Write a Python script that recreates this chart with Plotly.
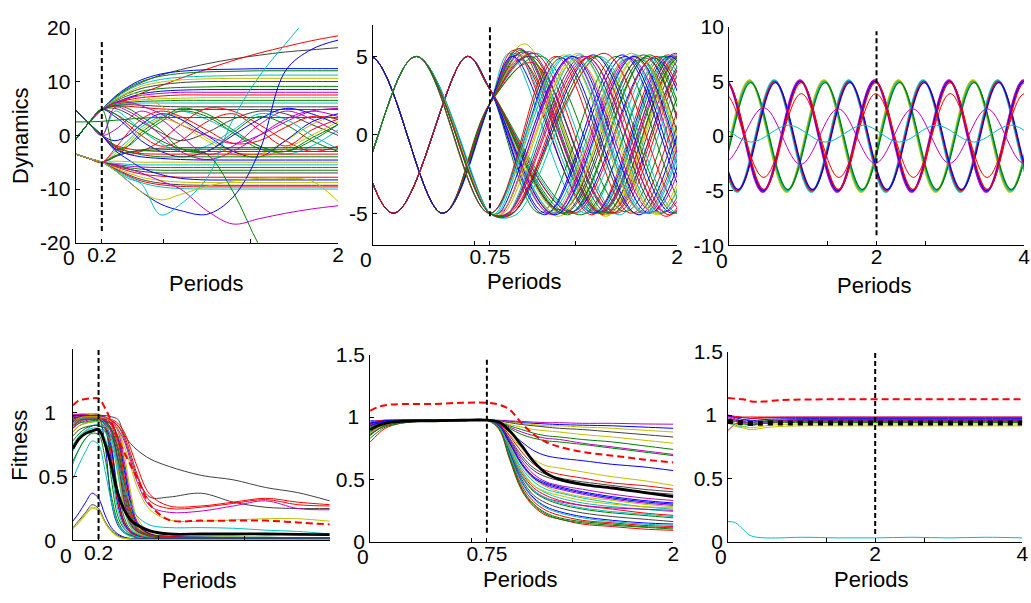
import plotly.graph_objects as go

W, H = 1031, 603

# ===================== DATA =====================
# ---- Panel 1: Dynamics, transition at 0.2 ----
P1_X = [0, 0.1, 0.2, 0.3, 0.4, 0.5, 0.65, 0.8, 1.0, 1.2, 1.4, 1.6, 1.8, 2.0]
P1_START_A = [4.7, 2.3, 0.0]
P1_START_B = [-0.8, 2.3, 4.8]
P1_START_C = [-3.5, -4.3, -5.0]
P1_START_D = [2.5, 2.5, 2.6]
P1_GROUP = "BBBBBBBBBBBBBBBB" + "BBABACBCABCBCABA" + "AACCACCCCCACCCCAC" + "CCCBC" + "D"
P1_POST = [
    [7.0, 8.6, 9.8, 11.2, 12.2, 13.3, 14.2, 14.9, 15.5, 15.9, 16.3],
    [5.8, 6.8, 7.8, 9.2, 10.6, 12.3, 13.9, 15.3, 16.5, 17.6, 18.5],
    [7.2, 9.0, 10.3, 11.4, 11.9, 12.2, 12.3, 12.4, 12.4, 12.4, 12.4],
    [7.0, 8.8, 10.0, 11.0, 11.5, 11.8, 11.9, 12.0, 12.0, 12.0, 12.0],
    [6.8, 8.4, 9.5, 10.4, 10.8, 11.0, 11.1, 11.2, 11.2, 11.2, 11.2],
    [6.6, 8.0, 9.1, 9.9, 10.3, 10.5, 10.6, 10.6, 10.6, 10.6, 10.6],
    [6.5, 7.8, 8.7, 9.4, 9.8, 10.0, 10.0, 10.0, 10.0, 10.0, 10.0],
    [6.3, 7.4, 8.2, 8.7, 8.9, 9.0, 9.1, 9.1, 9.1, 9.1, 9.1],
    [6.0, 7.0, 7.7, 8.2, 8.4, 8.5, 8.5, 8.5, 8.5, 8.5, 8.5],
    [6.1, 6.9, 7.4, 7.8, 8.0, 8.0, 8.0, 8.0, 8.0, 8.0, 8.0],
    [5.9, 6.6, 7.0, 7.3, 7.5, 7.5, 7.5, 7.5, 7.5, 7.5, 7.5],
    [5.8, 6.3, 6.6, 6.8, 6.9, 7.0, 7.0, 7.0, 7.0, 7.0, 7.0],
    [5.7, 6.1, 6.3, 6.4, 6.5, 6.5, 6.5, 6.5, 6.5, 6.5, 6.5],
    [5.6, 5.9, 6.0, 6.0, 6.0, 6.0, 6.0, 6.0, 6.0, 6.0, 6.0],
    [5.5, 5.7, 5.6, 5.4, 5.3, 5.3, 5.3, 5.3, 5.3, 5.3, 5.3],
    [5.4, 5.4, 5.2, 4.9, 4.8, 4.8, 4.8, 4.8, 4.8, 4.8, 4.8],
    [4.0, 2.0, 0.0, -2.0, -1.0, 2.5, 4.0, 1.0, -2.0, 1.0, 3.0],
    [5.5, 5.0, 3.5, 1.0, -2.5, -3.0, 0.5, 3.5, 2.0, -1.0, -3.0],
    [1.0, 3.0, 4.5, 3.0, 0.0, -3.5, -2.0, 2.0, 4.5, 3.0, 0.5],
    [6.5, 7.8, 7.5, 5.5, 3.0, -0.5, -3.0, -3.5, -1.0, 2.0, 4.0],
    [-1.0, 0.0, 2.0, 4.0, 3.0, 0.0, -3.0, -4.0, -1.0, 2.5, 4.0],
    [-3.0, -1.0, 1.5, 3.5, 4.5, 3.0, 0.5, -2.0, -3.5, -2.0, 1.0],
    [5.0, 4.0, 2.5, 0.5, -1.0, 0.5, 3.0, 4.5, 4.0, 2.0, 0.0],
    [-4.0, -2.0, 0.5, 3.0, 5.0, 4.0, 1.0, -2.0, -3.0, -1.0, 2.0],
    [-2.0, -3.5, -3.0, -1.0, 2.0, 5.0, 4.5, 2.0, -1.0, -3.0, -2.0],
    [6.0, 6.2, 5.5, 4.0, 2.0, 0.0, -1.5, 0.0, 2.5, 4.5, 5.0],
    [-3.5, -1.5, 1.0, 3.0, 2.0, -1.0, -3.5, -4.0, -2.5, 0.0, 2.5],
    [3.5, 1.5, -1.0, -3.0, -4.0, -3.0, 0.0, 3.0, 5.0, 4.0, 2.0],
    [-2.5, 0.5, 3.0, 4.5, 3.5, 1.0, -1.5, -1.0, 1.5, 3.5, 3.0],
    [4.5, 3.0, 1.0, -1.5, -3.0, -2.0, 1.0, 4.0, 3.0, 0.0, -2.5],
    [-2.5, -2.0, 0.0, 2.5, 4.5, 3.5, 0.5, -2.5, -3.0, -0.5, 2.0],
    [5.2, 4.5, 3.0, 0.0, -3.0, -4.5, -3.0, 0.0, 3.0, 4.5, 3.5],
    [-2.5, -3.5, -4.0, -4.3, -4.5, -4.6, -4.6, -4.6, -4.6, -4.6, -4.6],
    [-1.8, -2.5, -2.8, -3.0, -3.0, -3.0, -3.0, -3.0, -3.0, -3.0, -3.0],
    [-3.8, -3.2, -2.9, -2.7, -2.6, -2.6, -2.6, -2.6, -2.6, -2.6, -2.6],
    [-4.0, -3.2, -2.7, -2.4, -2.3, -2.3, -2.3, -2.3, -2.3, -2.3, -2.3],
    [-2.2, -3.0, -3.4, -3.5, -3.5, -3.5, -3.5, -3.5, -3.5, -3.5, -3.5],
    [-5.2, -5.4, -5.5, -5.5, -5.5, -5.5, -5.5, -5.5, -5.5, -5.5, -5.5],
    [-5.4, -5.7, -5.9, -6.0, -6.0, -6.0, -6.0, -6.0, -6.0, -6.0, -6.0],
    [-5.5, -6.0, -6.3, -6.5, -6.5, -6.5, -6.5, -6.5, -6.5, -6.5, -6.5],
    [-5.7, -6.3, -6.7, -7.0, -7.0, -7.0, -7.0, -7.0, -7.0, -7.0, -7.0],
    [-5.8, -6.6, -7.2, -7.6, -7.8, -7.8, -7.8, -7.8, -7.8, -7.8, -7.8],
    [-2.8, -4.5, -6.0, -7.3, -8.0, -8.3, -8.3, -8.3, -8.3, -8.3, -8.3],
    [-6.0, -7.0, -7.8, -8.4, -8.7, -8.8, -8.8, -8.8, -8.8, -8.8, -8.8],
    [-6.2, -7.3, -8.2, -8.9, -9.2, -9.3, -9.3, -9.3, -9.3, -9.3, -9.3],
    [-6.3, -7.5, -8.5, -9.2, -9.5, -9.6, -9.6, -9.6, -9.6, -9.6, -9.6],
    [-6.4, -7.7, -8.8, -9.6, -9.9, -10.0, -10.0, -10.0, -10.0, -10.0, -10.0],
    [-2.0, -3.0, -3.6, -4.0, -4.0, -4.0, -4.0, -4.0, -4.0, -4.0, -4.0],
    [-4.8, -4.9, -5.0, -5.0, -5.0, -5.0, -5.0, -5.0, -5.0, -5.0, -5.0],
    [-6.5, -8.5, -10.5, -12.8, -14.0, -14.7, -11.5, -3.0, 12.0, 16.0, 17.7],
    [-6.5, -8.0, -9.0, -14.8, -12.8, -8.0, 3.0, 11.0, 17.0, 22.5, 26.0],
    [-5.5, -6.2, -7.0, -8.5, -10.0, -14.0, -16.5, -15.5, -14.5, -13.7, -13.1],
    [4.0, 2.5, 1.0, -1.0, -2.5, -3.5, -10.5, -20.5, -28.0, -35.0, -40.0],
    [-6.5, -8.5, -10.5, -12.0, -11.0, -9.5, -8.5, -8.0, -8.0, -8.5, -12.3],
    [2.8, 3.0, 3.2, 3.3, 3.3, 3.3, 3.3, 3.3, 3.3, 3.3, 3.3],
]

# ---- Panel 2: Dynamics, transition at 0.75 (extremes of each oscillation) ----
P2_A_PRE = [[-0.70, 5.0], [-0.215, -5.0], [0.285, 5.0], [0.77, -5.0]]
P2_B_PRE = [[-0.835, -5.0], [-0.35, 5.0], [0.135, -5.0], [0.62, 5.0], [0.77, 2.9]]
P2_C_PRE = [[-0.50, -5.0], [-0.02, 5.0], [0.458, -5.0], [0.77, 2.0]]
P2_A_POST = [
    [[1.20, 5.0], [1.70, -5.0], [2.20, 5.0], [2.70, -5.0]],
    [[1.24, 4.9], [1.75, -5.1], [2.25, 5.0], [2.75, -5.0]],
    [[0.82, -5.0], [1.29, 5.1], [1.80, -5.0], [2.30, 5.0], [2.80, -5.0]],
    [[0.84, -5.1], [1.32, 5.0], [1.84, -4.9], [2.34, 5.0], [2.84, -5.0]],
    [[0.86, -5.0], [1.35, 5.2], [1.87, -5.1], [2.37, 5.0], [2.87, -5.0]],
    [[0.88, -5.1], [1.38, 5.0], [1.90, -5.0], [2.40, 5.0], [2.90, -5.0]],
    [[0.90, -4.9], [1.41, 4.9], [1.93, -5.2], [2.43, 5.0], [2.93, -5.0]],
    [[0.92, -5.0], [1.45, 5.1], [1.97, -5.0], [2.47, 5.0], [2.97, -5.0]],
    [[0.94, -5.1], [1.49, 5.0], [2.01, -5.0], [2.51, 5.0], [3.01, -5.0]],
    [[0.86, -4.8], [1.30, 4.9], [1.78, -5.0], [2.28, 5.0], [2.78, -5.0]],
    [[0.90, -5.0], [1.52, 5.2], [2.05, -4.9], [2.55, 5.0], [3.05, -5.0]],
    [[1.26, 5.1], [1.77, -4.9], [2.27, 5.0], [2.77, -5.0]],
    [[0.83, -5.0], [1.31, 5.0], [1.82, -5.0], [2.32, 5.0], [2.82, -5.0]],
    [[0.87, -5.2], [1.36, 5.1], [1.88, -5.0], [2.38, 5.0], [2.88, -5.0]],
    [[0.89, -5.0], [1.40, 5.0], [1.92, -4.9], [2.42, 5.0], [2.92, -5.0]],
    [[1.22, 5.0], [1.73, -5.0], [2.23, 5.0], [2.73, -5.0]],
    [[0.85, -4.9], [1.34, 4.8], [1.86, -5.0], [2.36, 5.0], [2.86, -5.0]],
    [[0.91, -5.1], [1.43, 5.0], [1.95, -5.1], [2.45, 5.0], [2.95, -5.0]],
    [[0.81, -5.0], [1.27, 5.0], [1.79, -5.0], [2.29, 5.0], [2.79, -5.0]],
    [[0.93, -4.9], [1.47, 5.0], [1.99, -5.0], [2.49, 5.0], [2.99, -5.0]],
]
P2_B_POST = [
    [[1.10, -5.0], [1.60, 5.0], [2.10, -5.0], [2.60, 5.0]],
    [[1.13, -5.1], [1.64, 5.1], [2.14, -5.0], [2.64, 5.0]],
    [[1.16, -4.9], [1.68, 4.9], [2.18, -5.0], [2.68, 5.0]],
    [[1.19, -5.0], [1.71, 5.0], [2.21, -5.0], [2.71, 5.0]],
    [[1.22, -5.2], [1.74, 5.0], [2.24, -5.0], [2.74, 5.0]],
    [[1.25, -5.0], [1.78, 5.1], [2.28, -5.0], [2.78, 5.0]],
    [[1.28, -5.1], [1.81, 5.0], [2.31, -5.0], [2.81, 5.0]],
    [[1.31, -4.9], [1.85, 4.9], [2.35, -5.0], [2.85, 5.0]],
    [[1.34, -5.0], [1.88, 5.0], [2.38, -5.0], [2.88, 5.0]],
    [[1.17, -5.0], [1.70, 5.2], [2.20, -5.0], [2.70, 5.0]],
    [[1.24, -4.8], [1.76, 4.8], [2.26, -5.0], [2.76, 5.0]],
    [[1.37, -5.1], [1.92, 5.0], [2.42, -5.0], [2.92, 5.0]],
    [[1.14, -5.0], [1.66, 5.0], [2.16, -5.0], [2.66, 5.0]],
    [[1.18, -5.1], [1.69, 4.9], [2.19, -5.0], [2.69, 5.0]],
    [[1.21, -5.0], [1.73, 5.1], [2.23, -5.0], [2.73, 5.0]],
    [[1.23, -4.9], [1.75, 5.0], [2.25, -5.0], [2.75, 5.0]],
    [[1.26, -5.0], [1.79, 4.9], [2.29, -5.0], [2.79, 5.0]],
    [[1.29, -5.0], [1.82, 5.1], [2.32, -5.0], [2.82, 5.0]],
    [[1.20, -5.1], [1.72, 5.0], [2.22, -5.0], [2.72, 5.0]],
    [[1.32, -5.0], [1.86, 5.0], [2.36, -5.0], [2.86, 5.0]],
]
P2_C_POST = [
    [[0.90, 5.2], [1.40, -5.0], [1.90, 5.0], [2.40, -5.0], [2.90, 5.0]],
    [[0.93, 5.4], [1.44, -5.1], [1.94, 5.1], [2.44, -5.0], [2.94, 5.0]],
    [[0.96, 5.5], [1.47, -5.0], [1.97, 5.0], [2.47, -5.0], [2.97, 5.0]],
    [[0.99, 5.3], [1.50, -4.9], [2.00, 5.0], [2.50, -5.0], [3.00, 5.0]],
    [[1.00, 5.8], [1.53, -5.2], [2.03, 5.0], [2.53, -5.0], [3.03, 5.0]],
    [[1.02, 5.0], [1.55, -5.0], [2.06, 5.1], [2.56, -5.0], [3.06, 5.0]],
    [[1.05, 4.6], [1.58, -5.0], [2.09, 4.9], [2.59, -5.0], [3.09, 5.0]],
    [[1.08, 5.2], [1.62, -5.1], [2.13, 5.0], [2.63, -5.0], [3.13, 5.0]],
    [[1.11, 5.0], [1.66, -4.9], [2.17, 5.0], [2.67, -5.0], [3.17, 5.0]],
    [[0.95, 5.1], [1.49, -5.0], [1.99, 5.2], [2.49, -5.0], [2.99, 5.0]],
    [[1.03, 5.3], [1.57, -4.8], [2.08, 4.8], [2.58, -5.0], [3.08, 5.0]],
    [[0.97, 4.8], [1.52, -5.1], [2.02, 5.0], [2.52, -5.0], [3.02, 5.0]],
    [[0.94, 5.2], [1.46, -5.0], [1.96, 5.0], [2.46, -5.0], [2.96, 5.0]],
    [[0.98, 5.4], [1.50, -5.0], [2.01, 5.0], [2.51, -5.0], [3.01, 5.0]],
    [[1.01, 5.1], [1.54, -5.1], [2.04, 5.0], [2.54, -5.0], [3.04, 5.0]],
    [[1.04, 5.0], [1.57, -5.0], [2.08, 5.0], [2.58, -5.0], [3.08, 5.0]],
    [[0.97, 5.5], [1.49, -4.9], [1.99, 5.1], [2.49, -5.0], [2.99, 5.0]],
    [[1.06, 5.2], [1.60, -5.0], [2.11, 5.0], [2.61, -5.0], [3.11, 5.0]],
    [[1.00, 5.3], [1.52, -5.0], [2.03, 5.0], [2.53, -5.0], [3.03, 5.0]],
    [[0.92, 5.0], [1.45, -5.0], [1.95, 5.0], [2.45, -5.0], [2.95, 5.0]],
]

# ---- Panel 3: Dynamics, transition at 2 (extremes) ----
P3_A_T = [[-0.733, -0.228, 0.277, 0.782, 1.287, 1.792, 2.297, 2.802, 3.307, 3.812, 4.317, 4.822],
          [-0.725, -0.220, 0.285, 0.790, 1.295, 1.800, 2.305, 2.810, 3.315, 3.820, 4.325, 4.830],
          [-0.717, -0.212, 0.293, 0.798, 1.303, 1.808, 2.313, 2.818, 3.323, 3.828, 4.333, 4.838]]
P3_A_V = [[5.1, -5.1, 5.1, -5.1, 5.1, -5.1, 5.1, -5.1, 5.1, -5.1, 5.1, -5.1],
          [5.0, -5.0, 5.0, -5.0, 5.0, -5.0, 5.0, -5.0, 5.0, -5.0, 5.0, -5.0],
          [4.9, -4.9, 4.9, -4.9, 4.9, -4.9, 4.9, -4.9, 4.9, -4.9, 4.9, -4.9]]
P3_B_T = [[-0.903, -0.398, 0.107, 0.612, 1.117, 1.622, 2.127, 2.632, 3.137, 3.642, 4.147, 4.652],
          [-0.895, -0.390, 0.115, 0.620, 1.125, 1.630, 2.135, 2.640, 3.145, 3.650, 4.155, 4.660],
          [-0.887, -0.382, 0.123, 0.628, 1.133, 1.638, 2.143, 2.648, 3.153, 3.658, 4.163, 4.668]]
P3_B_V = [[-5.1, 5.1, -5.1, 5.1, -5.1, 5.1, -5.1, 5.1, -5.1, 5.1, -5.1, 5.1],
          [-5.0, 5.0, -5.0, 5.0, -5.0, 5.0, -5.0, 5.0, -5.0, 5.0, -5.0, 5.0],
          [-4.9, 4.9, -4.9, 4.9, -4.9, 4.9, -4.9, 4.9, -4.9, 4.9, -4.9, 4.9]]
P3_C_T = [[-0.553, -0.048, 0.457, 0.962, 1.467, 1.972, 2.477, 2.982, 3.487, 3.992, 4.497, 5.002],
          [-0.545, -0.040, 0.465, 0.970, 1.475, 1.980, 2.485, 2.990, 3.495, 4.000, 4.505, 5.010],
          [-0.537, -0.032, 0.473, 0.978, 1.483, 1.988, 2.493, 2.998, 3.503, 4.008, 4.513, 5.018]]
P3_C_V = [[-5.1, 5.1, -5.1, 5.1, -5.1, 5.1, -5.1, 5.1, -5.1, 5.1, -5.1, 5.1],
          [-5.0, 5.0, -5.0, 5.0, -5.0, 5.0, -5.0, 5.0, -5.0, 5.0, -5.0, 5.0],
          [-4.9, 4.9, -4.9, 4.9, -4.9, 4.9, -4.9, 4.9, -4.9, 4.9, -4.9, 4.9]]
P3_RED_T = [-0.57, -0.06, 0.47, 0.98, 1.49, 1.99, 2.50, 3.00, 3.50, 4.01, 4.52, 5.03]
P3_RED_V = [-3.8, 3.9, -3.8, 3.9, -3.8, 3.9, -3.8, 3.9, -3.8, 3.9, -3.8, 3.9]
P3_MAG_T = [-0.57, -0.06, 0.47, 0.97, 1.48, 1.98, 2.49, 2.99, 3.50, 4.00, 4.50, 5.00]
P3_MAG_V = [2.5, -2.4, 2.6, -2.6, 2.5, -2.5, 2.5, -2.5, 2.5, -2.5, 2.5, -2.5]
P3_CYA_T = [-0.70, -0.20, 0.30, 0.81, 1.31, 1.82, 2.31, 2.81, 3.32, 3.82, 4.32, 4.82]
P3_CYA_V = [-0.55, 1.0, -0.55, 1.0, -0.55, 1.0, -0.55, 1.0, -0.55, 1.0, -0.55, 1.0]

# ---- Panel 4: Fitness ----
P4_X = [0, 0.05, 0.1, 0.15, 0.2, 0.25, 0.3, 0.35, 0.4, 0.45, 0.5, 0.6, 0.75, 1.0, 1.25, 1.5, 1.75, 2.0]
P4_LINES = [
    [0.97, 0.98, 0.98, 0.98, 0.97, 0.75, 0.30, 0.12, 0.06, 0.04, 0.03, 0.02, 0.015, 0.01, 0.01, 0.01, 0.01, 0.01],
    [0.85, 0.90, 0.92, 0.93, 0.93, 0.88, 0.48, 0.19, 0.09, 0.05, 0.035, 0.02, 0.015, 0.01, 0.01, 0.01, 0.01, 0.01],
    [0.98, 0.99, 0.99, 0.99, 0.99, 0.94, 0.75, 0.35, 0.15, 0.07, 0.045, 0.025, 0.02, 0.015, 0.015, 0.015, 0.015, 0.015],
    [0.70, 0.80, 0.86, 0.90, 0.91, 0.88, 0.80, 0.55, 0.26, 0.11, 0.06, 0.03, 0.02, 0.02, 0.02, 0.02, 0.02, 0.02],
    [0.99, 0.99, 0.99, 0.99, 0.98, 0.95, 0.86, 0.58, 0.27, 0.12, 0.07, 0.03, 0.02, 0.02, 0.02, 0.02, 0.02, 0.02],
    [0.96, 0.97, 0.98, 0.99, 0.99, 0.97, 0.93, 0.79, 0.49, 0.23, 0.11, 0.04, 0.025, 0.02, 0.02, 0.02, 0.02, 0.02],
    [0.90, 0.93, 0.95, 0.95, 0.95, 0.93, 0.88, 0.70, 0.40, 0.18, 0.09, 0.04, 0.025, 0.02, 0.02, 0.02, 0.02, 0.02],
    [0.92, 0.95, 0.96, 0.96, 0.96, 0.90, 0.62, 0.28, 0.12, 0.06, 0.04, 0.02, 0.015, 0.01, 0.01, 0.01, 0.01, 0.01],
    [0.78, 0.84, 0.88, 0.90, 0.90, 0.86, 0.70, 0.40, 0.18, 0.08, 0.05, 0.025, 0.02, 0.015, 0.015, 0.015, 0.015, 0.015],
    [0.94, 0.96, 0.97, 0.97, 0.97, 0.95, 0.90, 0.74, 0.45, 0.20, 0.09, 0.035, 0.02, 0.02, 0.02, 0.02, 0.02, 0.02],
    [0.60, 0.72, 0.80, 0.85, 0.86, 0.80, 0.55, 0.24, 0.10, 0.05, 0.03, 0.02, 0.015, 0.01, 0.01, 0.01, 0.01, 0.01],
    [0.88, 0.92, 0.94, 0.95, 0.95, 0.93, 0.84, 0.62, 0.32, 0.14, 0.07, 0.03, 0.02, 0.02, 0.02, 0.02, 0.02, 0.02],
    [0.95, 0.97, 0.97, 0.97, 0.97, 0.96, 0.94, 0.88, 0.68, 0.38, 0.18, 0.06, 0.03, 0.025, 0.025, 0.02, 0.02, 0.02],
    [0.93, 0.95, 0.96, 0.96, 0.96, 0.94, 0.87, 0.64, 0.30, 0.13, 0.07, 0.03, 0.02, 0.02, 0.02, 0.02, 0.02, 0.02],
    [0.96, 0.97, 0.97, 0.97, 0.96, 0.92, 0.72, 0.34, 0.14, 0.07, 0.04, 0.02, 0.015, 0.01, 0.01, 0.01, 0.01, 0.01],
    [0.93, 0.95, 0.95, 0.95, 0.95, 0.94, 0.91, 0.82, 0.58, 0.30, 0.14, 0.05, 0.03, 0.025, 0.025, 0.025, 0.02, 0.02],
    [0.90, 0.94, 0.95, 0.96, 0.96, 0.91, 0.66, 0.30, 0.13, 0.06, 0.04, 0.02, 0.015, 0.01, 0.01, 0.01, 0.01, 0.01],
    [0.75, 0.82, 0.86, 0.88, 0.88, 0.85, 0.76, 0.52, 0.24, 0.10, 0.05, 0.025, 0.02, 0.015, 0.015, 0.015, 0.015, 0.015],
    [0.97, 0.98, 0.98, 0.98, 0.98, 0.97, 0.94, 0.86, 0.62, 0.33, 0.15, 0.05, 0.03, 0.02, 0.02, 0.02, 0.02, 0.02],
    [0.85, 0.90, 0.92, 0.93, 0.93, 0.90, 0.80, 0.56, 0.26, 0.11, 0.06, 0.03, 0.02, 0.02, 0.02, 0.02, 0.02, 0.02],
    [0.82, 0.87, 0.89, 0.90, 0.90, 0.88, 0.82, 0.65, 0.36, 0.16, 0.08, 0.03, 0.02, 0.02, 0.02, 0.02, 0.02, 0.02],
    [0.98, 0.98, 0.98, 0.98, 0.98, 0.96, 0.92, 0.80, 0.55, 0.28, 0.13, 0.05, 0.03, 0.025, 0.02, 0.02, 0.02, 0.02],
    [0.88, 0.92, 0.93, 0.94, 0.94, 0.92, 0.86, 0.72, 0.45, 0.22, 0.10, 0.04, 0.025, 0.02, 0.02, 0.02, 0.02, 0.02],
    [0.95, 0.97, 0.97, 0.97, 0.97, 0.96, 0.92, 0.78, 0.50, 0.24, 0.12, 0.045, 0.03, 0.02, 0.02, 0.02, 0.02, 0.02],
    # slower / special runs
    [0.95, 0.97, 0.98, 0.98, 0.98, 0.98, 0.97, 0.95, 0.83, 0.76, 0.71, 0.64, 0.58, 0.51, 0.475, 0.415, 0.375, 0.31],
    [0.93, 0.96, 0.97, 0.97, 0.97, 0.96, 0.94, 0.90, 0.80, 0.65, 0.50, 0.34, 0.34, 0.37, 0.30, 0.26, 0.25, 0.25],
    [0.92, 0.96, 0.97, 0.97, 0.97, 0.96, 0.95, 0.92, 0.85, 0.72, 0.58, 0.36, 0.27, 0.27, 0.30, 0.33, 0.30, 0.28],
    [0.90, 0.95, 0.96, 0.96, 0.96, 0.95, 0.94, 0.90, 0.82, 0.68, 0.52, 0.31, 0.25, 0.26, 0.29, 0.32, 0.28, 0.27],
    [0.88, 0.94, 0.95, 0.95, 0.95, 0.94, 0.92, 0.87, 0.78, 0.62, 0.46, 0.27, 0.22, 0.23, 0.27, 0.31, 0.25, 0.24],
    [0.92, 0.96, 0.97, 0.97, 0.97, 0.96, 0.93, 0.86, 0.74, 0.58, 0.42, 0.24, 0.16, 0.15, 0.16, 0.17, 0.17, 0.15],
    [0.90, 0.95, 0.96, 0.96, 0.96, 0.92, 0.80, 0.60, 0.42, 0.28, 0.19, 0.12, 0.10, 0.10, 0.095, 0.08, 0.07, 0.05],
    [0.48, 0.60, 0.70, 0.78, 0.75, 0.55, 0.30, 0.13, 0.06, 0.03, 0.02, 0.01, 0.01, 0.01, 0.01, 0.01, 0.01, 0.01],
    [0.62, 0.72, 0.80, 0.84, 0.83, 0.65, 0.35, 0.15, 0.07, 0.04, 0.02, 0.01, 0.01, 0.01, 0.01, 0.01, 0.01, 0.01],
    [0.15, 0.22, 0.30, 0.37, 0.33, 0.20, 0.10, 0.05, 0.025, 0.015, 0.01, 0.01, 0.01, 0.01, 0.01, 0.01, 0.01, 0.01],
    [0.10, 0.16, 0.22, 0.28, 0.25, 0.15, 0.08, 0.04, 0.02, 0.01, 0.01, 0.01, 0.01, 0.01, 0.01, 0.01, 0.01, 0.01],
    [0.09, 0.14, 0.20, 0.25, 0.23, 0.14, 0.07, 0.03, 0.015, 0.01, 0.005, 0.005, 0.005, 0.005, 0.005, 0.005, 0.005, 0.005],
    [0.10, 0.15, 0.21, 0.26, 0.24, 0.14, 0.07, 0.03, 0.015, 0.01, 0.005, 0.005, 0.005, 0.005, 0.005, 0.005, 0.005, 0.005],
]
P4_MEAN = [0.72, 0.80, 0.84, 0.86, 0.87, 0.76, 0.58, 0.37, 0.24, 0.16, 0.12, 0.075, 0.05, 0.05, 0.05, 0.05, 0.047, 0.045]
P4_BEST = [1.06, 1.10, 1.11, 1.115, 1.115, 1.04, 0.93, 0.80, 0.69, 0.59, 0.49, 0.28, 0.16, 0.155, 0.155, 0.155, 0.14, 0.125]

# ---- Panel 5: Fitness ----
P5_X = [0, 0.05, 0.1, 0.2, 0.4, 0.6, 0.77, 0.85, 0.92, 1.0, 1.08, 1.16, 1.25, 1.4, 1.6, 1.8, 2.0]
P5_LINES = [
    [0.95, 0.96, 0.97, 0.975, 0.975, 0.975, 0.975, 0.975, 0.97, 0.965, 0.96, 0.955, 0.955, 0.95, 0.95, 0.945, 0.943],
    [0.97, 0.97, 0.975, 0.975, 0.975, 0.975, 0.975, 0.97, 0.965, 0.955, 0.95, 0.945, 0.94, 0.935, 0.93, 0.92, 0.91],
    [0.93, 0.95, 0.96, 0.97, 0.97, 0.975, 0.975, 0.97, 0.96, 0.95, 0.94, 0.93, 0.93, 0.92, 0.91, 0.895, 0.88],
    [0.90, 0.93, 0.95, 0.96, 0.97, 0.97, 0.975, 0.97, 0.955, 0.94, 0.93, 0.92, 0.91, 0.90, 0.88, 0.86, 0.84],
    [0.88, 0.92, 0.94, 0.96, 0.97, 0.97, 0.975, 0.965, 0.94, 0.92, 0.90, 0.89, 0.88, 0.86, 0.84, 0.815, 0.79],
    [0.92, 0.94, 0.96, 0.97, 0.97, 0.975, 0.975, 0.96, 0.93, 0.90, 0.87, 0.85, 0.84, 0.82, 0.80, 0.77, 0.74],
    [0.95, 0.96, 0.97, 0.97, 0.975, 0.975, 0.975, 0.96, 0.92, 0.88, 0.85, 0.83, 0.82, 0.79, 0.76, 0.73, 0.70],
    [0.86, 0.90, 0.93, 0.96, 0.97, 0.97, 0.975, 0.955, 0.91, 0.86, 0.83, 0.81, 0.80, 0.78, 0.75, 0.72, 0.69],
    [0.94, 0.95, 0.96, 0.97, 0.975, 0.975, 0.975, 0.95, 0.88, 0.80, 0.73, 0.69, 0.67, 0.65, 0.62, 0.60, 0.57],
    [0.90, 0.93, 0.95, 0.96, 0.97, 0.97, 0.975, 0.95, 0.86, 0.75, 0.66, 0.61, 0.59, 0.56, 0.52, 0.49, 0.45],
    [0.96, 0.97, 0.975, 0.975, 0.975, 0.975, 0.975, 0.95, 0.85, 0.72, 0.62, 0.57, 0.54, 0.51, 0.47, 0.45, 0.42],
    [0.89, 0.92, 0.94, 0.96, 0.97, 0.97, 0.975, 0.94, 0.83, 0.69, 0.59, 0.54, 0.51, 0.48, 0.45, 0.42, 0.40],
    [0.87, 0.91, 0.94, 0.96, 0.97, 0.97, 0.975, 0.94, 0.82, 0.67, 0.57, 0.52, 0.49, 0.46, 0.43, 0.40, 0.38],
    [0.93, 0.95, 0.96, 0.97, 0.97, 0.975, 0.975, 0.94, 0.81, 0.65, 0.54, 0.48, 0.45, 0.42, 0.38, 0.35, 0.33],
    [0.95, 0.96, 0.97, 0.975, 0.975, 0.975, 0.975, 0.94, 0.80, 0.63, 0.52, 0.47, 0.44, 0.40, 0.36, 0.33, 0.31],
    [0.85, 0.90, 0.93, 0.96, 0.97, 0.97, 0.975, 0.935, 0.79, 0.62, 0.51, 0.45, 0.42, 0.38, 0.34, 0.31, 0.29],
    [0.90, 0.93, 0.95, 0.96, 0.97, 0.97, 0.975, 0.93, 0.77, 0.59, 0.48, 0.42, 0.39, 0.35, 0.31, 0.28, 0.26],
    [0.88, 0.92, 0.94, 0.96, 0.97, 0.97, 0.975, 0.93, 0.78, 0.61, 0.50, 0.44, 0.40, 0.36, 0.33, 0.30, 0.28],
    [0.92, 0.94, 0.96, 0.97, 0.97, 0.975, 0.975, 0.93, 0.76, 0.57, 0.45, 0.39, 0.35, 0.31, 0.28, 0.26, 0.24],
    [0.94, 0.95, 0.96, 0.97, 0.975, 0.975, 0.975, 0.93, 0.75, 0.55, 0.43, 0.37, 0.33, 0.29, 0.26, 0.23, 0.21],
    [0.86, 0.90, 0.93, 0.96, 0.97, 0.97, 0.975, 0.92, 0.73, 0.52, 0.40, 0.34, 0.30, 0.26, 0.23, 0.21, 0.19],
    [0.90, 0.93, 0.95, 0.96, 0.97, 0.97, 0.975, 0.92, 0.72, 0.50, 0.37, 0.31, 0.27, 0.23, 0.20, 0.18, 0.16],
    [0.95, 0.96, 0.97, 0.975, 0.975, 0.975, 0.975, 0.92, 0.71, 0.48, 0.35, 0.28, 0.24, 0.20, 0.17, 0.15, 0.14],
    [0.88, 0.92, 0.94, 0.96, 0.97, 0.97, 0.975, 0.91, 0.69, 0.45, 0.32, 0.25, 0.21, 0.17, 0.15, 0.13, 0.12],
    [0.92, 0.94, 0.96, 0.97, 0.97, 0.975, 0.975, 0.91, 0.68, 0.43, 0.30, 0.23, 0.19, 0.16, 0.14, 0.12, 0.11],
    [0.80, 0.86, 0.91, 0.95, 0.97, 0.97, 0.975, 0.90, 0.66, 0.41, 0.28, 0.21, 0.18, 0.14, 0.12, 0.10, 0.09],
    [0.91, 0.93, 0.95, 0.96, 0.97, 0.97, 0.975, 0.91, 0.70, 0.47, 0.34, 0.27, 0.23, 0.19, 0.16, 0.14, 0.13],
    [0.94, 0.95, 0.96, 0.97, 0.975, 0.975, 0.975, 0.92, 0.74, 0.53, 0.41, 0.35, 0.32, 0.29, 0.27, 0.26, 0.25],
    [0.87, 0.91, 0.94, 0.96, 0.97, 0.97, 0.975, 0.92, 0.75, 0.56, 0.45, 0.40, 0.37, 0.33, 0.30, 0.28, 0.27],
    [0.93, 0.95, 0.96, 0.97, 0.975, 0.975, 0.975, 0.93, 0.79, 0.62, 0.51, 0.46, 0.43, 0.39, 0.35, 0.32, 0.30],
    [0.89, 0.92, 0.95, 0.96, 0.97, 0.97, 0.975, 0.92, 0.74, 0.53, 0.41, 0.35, 0.31, 0.27, 0.24, 0.22, 0.20],
    [0.83, 0.88, 0.92, 0.95, 0.97, 0.97, 0.975, 0.91, 0.67, 0.42, 0.29, 0.22, 0.18, 0.15, 0.13, 0.115, 0.10],
]
P5_MEAN = [0.90, 0.93, 0.95, 0.965, 0.97, 0.975, 0.975, 0.96, 0.89, 0.77, 0.64, 0.55, 0.50, 0.46, 0.43, 0.395, 0.36]
P5_BEST = [1.05, 1.08, 1.095, 1.105, 1.105, 1.115, 1.115, 1.10, 1.06, 0.95, 0.86, 0.80, 0.76, 0.72, 0.69, 0.66, 0.635]

# ---- Panel 6: Fitness ----
P6_X = [0, 0.1, 0.2, 0.3, 0.4, 0.5, 0.7, 1.0, 1.5, 2.0, 2.5, 3.0, 3.5, 4.0]
P6_LINES = [
    [0.99, 0.985, 0.98, 0.975, 0.978, 0.98, 0.982, 0.983, 0.983, 0.983, 0.983, 0.983, 0.983, 0.983],
    [0.97, 0.96, 0.95, 0.945, 0.95, 0.955, 0.96, 0.965, 0.965, 0.965, 0.965, 0.965, 0.965, 0.965],
    [0.88, 0.93, 0.96, 0.97, 0.975, 0.978, 0.98, 0.98, 0.98, 0.98, 0.98, 0.98, 0.98, 0.98],
    [0.95, 0.92, 0.91, 0.92, 0.93, 0.94, 0.95, 0.955, 0.955, 0.955, 0.955, 0.955, 0.955, 0.955],
    [0.98, 0.96, 0.94, 0.92, 0.925, 0.935, 0.945, 0.95, 0.95, 0.95, 0.95, 0.95, 0.95, 0.95],
    [0.94, 0.91, 0.90, 0.885, 0.89, 0.90, 0.91, 0.915, 0.915, 0.915, 0.915, 0.915, 0.915, 0.915],
    [0.96, 0.95, 0.945, 0.94, 0.945, 0.95, 0.955, 0.958, 0.958, 0.958, 0.958, 0.958, 0.958, 0.958],
    [1.00, 0.98, 0.965, 0.955, 0.96, 0.965, 0.97, 0.972, 0.972, 0.972, 0.972, 0.972, 0.972, 0.972],
    [0.95, 0.935, 0.93, 0.925, 0.93, 0.935, 0.94, 0.942, 0.942, 0.942, 0.942, 0.942, 0.942, 0.942],
    [0.96, 0.93, 0.91, 0.90, 0.905, 0.915, 0.925, 0.93, 0.93, 0.93, 0.93, 0.93, 0.93, 0.93],
    [0.99, 0.97, 0.95, 0.93, 0.935, 0.945, 0.955, 0.96, 0.96, 0.96, 0.96, 0.96, 0.96, 0.96],
    [1.00, 0.99, 0.985, 0.985, 0.985, 0.985, 0.985, 0.985, 0.985, 0.985, 0.985, 0.985, 0.985, 0.985],
    [0.16, 0.15, 0.10, 0.05, 0.035, 0.03, 0.03, 0.035, 0.03, 0.03, 0.035, 0.03, 0.035, 0.03],
]
P6_MEAN = [0.95, 0.945, 0.94, 0.935, 0.935, 0.937, 0.937, 0.937, 0.937, 0.937, 0.937, 0.937, 0.937, 0.937]
P6_BEST = [1.135, 1.13, 1.125, 1.11, 1.105, 1.108, 1.118, 1.123, 1.125, 1.125, 1.125, 1.125, 1.125, 1.125]

# transition markers
SWITCH_T = [0.2, 0.77, 2.0]
VLINE_TOP = [[-17.8, 17.8], [-5.2, 7.1], [-9.1, 9.6]]
VLINE_BOT = [[0.01, 1.52], [0.07, 1.48], [0.06, 1.50]]

# ===================== STYLE =====================
Bc = '#0000FF'; Gc = '#008000'; Rc = '#FF0000'; Cc = '#00BFBF'; Mc = '#BF00BF'; Yc = '#BFBF00'; Kc = '#404040'
CYCLE = [Bc, Gc, Rc, Cc, Mc, Yc, Kc]
P1_COL = [Kc, Rc, Bc, Gc, Cc, Yc, Kc, Gc, Bc, Mc, Rc, Yc, Gc, Cc, Kc, Rc,
          Rc, Gc, Mc, Yc, Bc, Cc, Kc, Gc, Rc, Mc, Yc, Bc, Rc, Cc, Gc, Mc,
          Bc, Rc, Gc, Kc, Rc, Cc, Mc, Gc, Kc, Rc, Bc, Yc, Kc, Rc, Cc, Gc, Yc,
          Bc, Cc, Mc, Gc, Yc, Gc]
P4_COL = (CYCLE * 4)[:24] + [Kc, Kc, Rc, Rc, Mc, Yc, Cc, Cc, Gc, Bc, Kc, Yc, Yc]
P5_COL = [Mc, Bc, Yc, Kc, Yc, Gc, Mc, Gc, Bc, Yc, Rc, Kc, Kc, Mc, Bc, Mc, Cc, Yc, Cc, Rc,
          Gc, Kc, Bc, Rc, Gc, Rc, Cc, Mc, Yc, Bc, Cc, Gc]
P6_COL = [Bc, Gc, Rc, Cc, Mc, Yc, Kc, Bc, Gc, Yc, Mc, Rc, Cc]
FONT = 'Liberation Sans, Arial, Helvetica, sans-serif'
NB = '\u00a0'

fig = go.Figure()


def ax_ids(i):
    s = '' if i == 1 else str(i)
    return 'x' + s, 'y' + s


def add(i, xs, ys, color, width=1.0, dash=None, shape='spline'):
    xa, ya = ax_ids(i)
    fig.add_trace(go.Scatter(x=xs, y=ys, mode='lines', xaxis=xa, yaxis=ya,
                             line=dict(color=color, width=width, dash=dash, shape=shape, smoothing=1.0),
                             hoverinfo='skip', showlegend=False))


# Panel 1
starts = {'A': P1_START_A, 'B': P1_START_B, 'C': P1_START_C, 'D': P1_START_D}
for g, post, col in zip(P1_GROUP, P1_POST, P1_COL):
    add(1, P1_X, starts[g] + post, col)

# Panel 2
colsA = [Rc, Bc, Cc, Mc, Yc, Kc, Rc, Bc, Cc, Mc, Rc, Yc, Bc, Cc, Mc, Kc, Yc, Rc, Cc, Gc]
colsB = [Gc, Bc, Cc, Mc, Yc, Kc, Gc, Bc, Cc, Yc, Kc, Gc, Bc, Mc, Cc, Yc, Kc, Gc, Bc, Rc]
colsC = [Cc, Rc, Gc, Mc, Yc, Kc, Rc, Cc, Gc, Kc, Mc, Rc, Cc, Gc, Yc, Kc, Mc, Rc, Gc, Bc]
for pre, posts, cols in [(P2_C_PRE, P2_C_POST, colsC), (P2_B_PRE, P2_B_POST, colsB),
                         (P2_A_PRE, P2_A_POST, colsA)]:
    for post, col in zip(posts, cols):
        pts = pre + post
        add(2, [p[0] for p in pts], [p[1] for p in pts], col)

# Panel 3
for Ts, Vs, cols, widths in [(P3_A_T, P3_A_V, [Yc, Cc, Gc], [2.2, 1.6, 1.4]),
                             (P3_B_T, P3_B_V, [Cc, Rc, Bc], [2.2, 1.6, 1.4]),
                             (P3_C_T, P3_C_V, [Mc, Bc, Rc], [2.2, 1.6, 1.4])]:
    for t, v, c, w in zip(Ts, Vs, cols, widths):
        add(3, t, v, c, w)
add(3, P3_RED_T, P3_RED_V, Rc, 1.0)
add(3, P3_MAG_T, P3_MAG_V, Mc, 1.0)
add(3, P3_CYA_T, P3_CYA_V, Cc, 1.0)

# Panel 4
for ys, col in zip(P4_LINES, P4_COL):
    add(4, P4_X, ys, col)
add(4, P4_X, P4_MEAN, '#000000', 2.8)
add(4, P4_X, P4_BEST, Rc, 2.0, dash='7px,4px')

# Panel 5
for ys, col in zip(P5_LINES, P5_COL):
    add(5, P5_X, ys, col)
add(5, P5_X, P5_MEAN, '#000000', 2.8)
add(5, P5_X, P5_BEST, Rc, 2.0, dash='7px,4px')

# Panel 6
for ys, col in zip(P6_LINES, P6_COL):
    add(6, P6_X, ys, col)
add(6, P6_X, P6_MEAN, '#000000', 5, dash='5px,5px')
add(6, P6_X, P6_BEST, Rc, 2.0, dash='7px,4px')

# transition lines
for i, (t, yy) in enumerate(zip(SWITCH_T, VLINE_TOP)):
    add(i + 1, [t, t], yy, '#000000', 2.0, dash='5px,3px', shape='linear')
for i, (t, yy) in enumerate(zip(SWITCH_T, VLINE_BOT)):
    add(i + 4, [t, t], yy, '#000000', 2.0, dash='5px,3px', shape='linear')

# ===================== AXES =====================
AX = {
    1: dict(px=(76, 340), py=(16.4, 240), xr=[0, 2], yr=[-20, 20],
            xt=[0, 0.2, 2/3, 4/3, 2], xl=['', '0.2', '', '', '2'],
            yt=[-20, -10, 0, 10, 20], yl=['-20', '-10', '0', '10', '20']),
    2: dict(px=(375, 681), py=(13.6, 241.8), xr=[0, 2], yr=[-7, 7],
            xt=[0, 2/3, 0.77, 4/3, 2], xl=['', '', '0.75', '', '2'],
            yt=[-5, 0, 5], yl=['-5', '0', '5']),
    3: dict(px=(733.3, 1030), py=(15.6, 242.4), xr=[0, 4], yr=[-10, 10],
            xt=[0, 4/3, 2, 8/3, 4], xl=['', '', '2', '', '4'],
            yt=[-10, -5, 0, 5, 10], yl=['-10', '-5', '0', '5', '10']),
    4: dict(px=(73.3, 331.7), py=(350.7, 549.3), xr=[0, 2], yr=[0, 1.5],
            xt=[0, 0.2, 2/3, 4/3], xl=['', '0.2', '', ''],
            yt=[0, 0.5, 1, 1.5], yl=['0' + NB + NB, '0.5', '1' + NB + NB, '']),
    5: dict(px=(372.3, 677.3), py=(356.5, 550.5), xr=[0, 2], yr=[0, 1.5],
            xt=[0, 2/3, 0.77, 4/3, 2], xl=['', '', '0.75', '', '2'],
            yt=[0, 0.5, 1, 1.5], yl=['0', '0.5', '1' + NB, '1.5']),
    6: dict(px=(732.3, 1028.3), py=(353.3, 550.7), xr=[0, 4], yr=[0, 1.5],
            xt=[0, 4/3, 2, 8/3, 4], xl=['', '', '2', '', '4'],
            yt=[0, 0.5, 1, 1.5], yl=['0', '0.5', '1' + NB, '1.5']),
}
layout = dict(width=W, height=H, margin=dict(l=0, r=0, t=0, b=0), autosize=False,
              paper_bgcolor='white', plot_bgcolor='white', showlegend=False)
common = dict(showline=True, linecolor='#000000', linewidth=1, ticks='inside', ticklen=4,
              tickcolor='#000000', tickwidth=1, showgrid=False, zeroline=False, fixedrange=True,
              tickfont=dict(family=FONT, size=21, color='#000000'), tickmode='array', tickangle=0)
for i, a in AX.items():
    s = '' if i == 1 else str(i)
    layout['xaxis' + s] = dict(common, domain=[a['px'][0] / W, a['px'][1] / W], range=a['xr'],
                               anchor='y' + s, tickvals=a['xt'], ticktext=a['xl'],
                               ticklabelstandoff=-7)
    layout['yaxis' + s] = dict(common, domain=[1 - a['py'][1] / H, 1 - a['py'][0] / H], range=a['yr'],
                               anchor='x' + s, tickvals=a['yt'], ticktext=a['yl'])

ann = []
def label(text, x, y, angle=0, size=22, xanchor='center'):
    ann.append(dict(text=text, x=x / W, y=1 - y / H, xref='paper', yref='paper', showarrow=False,
                    xanchor=xanchor, yanchor='middle', textangle=angle, borderpad=0,
                    font=dict(family=FONT, size=size, color='#000000')))

label('Dynamics', 20, 128, -90)
label('Fitness', 20, 450, -90)
label('Periods', 208, 282)
label('Periods', 528, 280)
label('Periods', 880, 284)
label('Periods', 201, 591)
label('Periods', 524, 590)
label('Periods', 877, 590)
# the "0" origin labels sit just left of each vertical axis
for i, a in AX.items():
    label('0', a['px'][0], a['py'][1] + 15.5, size=21, xanchor='right')
layout['annotations'] = ann

fig.update_layout(**layout)
fig.write_html('out.html')
